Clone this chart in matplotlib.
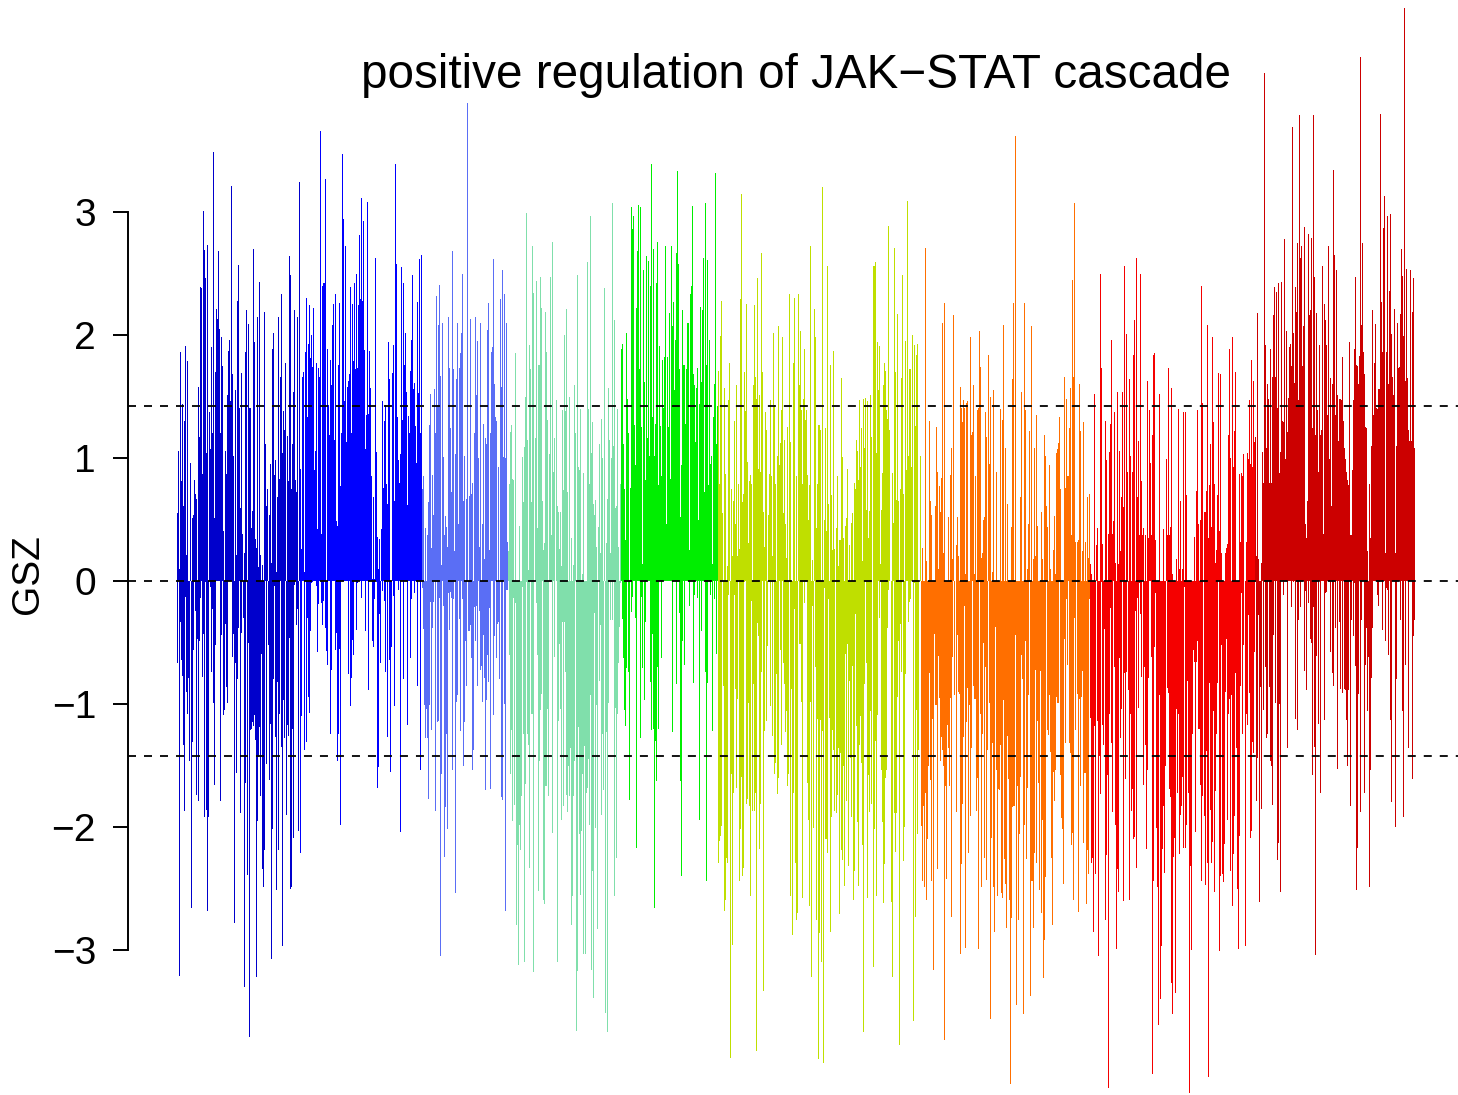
import matplotlib
matplotlib.use("Agg")
import matplotlib.pyplot as plt
import numpy as np

# GSZ values, in hundredths, one per bar
dark_blue_up = [55,106,10,186,81,144,61,130,191,21,179,0,0,96,0,51,54,82,71,67,0,158,117,239,238,87,301,269,246,104,273,0,137,107,190,120,349,51,170,221,213,268,205,120,198,175,41,0,106,87,151,187,196,146,321,168,102,0,155,21,228,257,141,59,169,38,0,23,186,220,0,209,141,141,43,57,270,194,34,27,215,11,243,21,0,13,0,219,111,61,75,0,54,95,15,189,202,86,98,7,68,215,83,166,233,104,138,123,177,0,118,81,264,249,75,111,154,220,82,72,215,0,324]
dark_blue_down = [67,0,321,33,64,77,133,187,13,90,108,79,146,0,266,131,56,1,24,174,47,179,49,14,0,78,43,192,1,186,268,192,0,5,74,23,99,166,52,0,0,0,0,179,44,0,109,105,35,86,99,0,0,0,0,62,43,278,67,156,80,38,0,189,42,0,30,330,164,0,239,50,371,121,120,115,118,109,129,322,195,143,119,175,59,234,249,219,0,149,0,52,162,116,307,202,80,4,127,251,82,219,108,0,135,297,97,128,0,190,117,126,46,250,249,120,209,3,0,36,23,203,0]
blue_up = [91,26,166,170,7,186,230,133,193,224,181,200,174,222,90,106,177,42,173,166,366,38,240,242,242,327,0,189,143,119,180,159,208,225,115,233,49,45,176,226,77,120,347,294,146,272,113,158,163,168,239,120,225,179,242,172,250,173,224,281,229,311,228,293,188,107,135,308,136,187,157,85,2,68,2,263,105,36,10,34,0,42,146,76,130,143,79,63,194,164,0,0,169,192,65,339,258,133,98,80,103,255,131,242,176,202,154,62,134,120,171,196,249,156,161,126,96,227,153,262,120,265]
blue_down = [221,110,0,0,137,0,131,30,94,107,41,2,1,0,0,0,4,58,19,0,0,18,36,16,0,38,57,68,0,0,124,72,0,0,0,56,42,146,124,55,198,0,0,0,0,0,0,0,76,0,102,79,48,60,0,0,40,2,0,0,0,14,0,0,0,41,0,0,89,0,0,0,49,54,15,0,1,168,151,27,67,0,8,0,16,74,0,127,0,64,155,54,0,12,102,0,0,0,7,0,204,0,0,80,0,0,0,117,0,0,63,15,0,0,10,0,0,85,0,0,154,0]
royal_up = [75,85,0,43,0,37,64,127,152,27,86,54,156,120,232,143,208,241,167,13,210,101,37,53,44,28,215,173,124,72,268,172,24,103,164,210,46,173,185,202,250,65,102,0,67,389,0,69,213,71,80,0,120,215,151,195,100,28,210,0,46,128,18,116,111,204,226,25,120,186,190,262,160,133,130,0,93,0,229,158,253,101,233,100,210,32]
royal_down = [6,39,101,128,104,128,177,101,17,121,38,17,0,187,0,115,114,14,305,157,0,20,224,184,124,202,10,40,9,14,154,15,0,254,98,93,0,31,122,0,15,150,115,49,85,0,41,41,36,63,154,137,21,49,20,85,0,24,72,69,98,44,79,170,97,60,82,22,169,0,0,109,45,0,63,35,33,80,0,176,178,0,100,268,7,7]
aqua_up = [24,79,121,127,83,82,0,185,0,0,0,45,0,0,101,64,109,150,299,115,9,192,172,64,272,234,0,116,244,43,176,176,247,222,65,25,31,219,186,131,0,103,247,37,276,89,116,0,147,61,56,26,56,12,139,74,200,138,221,72,0,150,0,35,0,13,159,120,0,249,93,90,140,0,6,88,0,0,0,259,140,79,297,104,129,63,54,66,28,0,44,111,23,132,100,0,238,0,31,67,157,115,23,100,307,110,212,59,61,140,28,0,79]
aqua_down = [0,60,157,121,195,14,182,18,280,215,312,198,219,175,5,124,310,165,1,124,133,233,0,108,108,318,0,0,18,60,252,146,105,92,0,259,263,167,167,104,175,0,0,0,205,0,62,0,0,310,114,51,104,194,33,183,33,74,174,188,150,175,136,280,256,175,146,0,366,317,119,206,255,203,157,303,134,303,172,168,145,198,93,316,236,339,26,201,101,283,0,81,36,190,124,170,0,351,123,367,99,0,32,0,32,0,256,103,225,108,67,37,2]
green_up = [189,193,111,75,33,202,148,120,0,76,304,286,297,127,94,222,268,306,172,304,125,14,253,162,82,264,116,260,102,240,339,133,270,102,128,242,276,78,191,126,85,180,141,182,272,46,182,125,218,83,272,207,227,155,196,267,333,258,172,52,94,220,176,176,128,172,210,210,25,233,240,305,168,159,113,157,173,50,144,223,162,220,263,72,307,176,261,78,196,95,102,14,133,160,332,111,142]
green_down = [0,31,63,105,118,71,0,74,178,0,25,13,0,0,30,217,0,0,0,128,13,71,0,97,33,0,0,0,0,82,121,43,120,266,130,163,70,120,0,0,63,0,0,0,0,0,0,0,0,0,0,123,0,0,0,84,0,0,26,163,240,49,0,68,0,0,0,0,20,0,0,0,83,11,0,0,14,0,194,0,41,0,0,0,74,244,83,0,0,11,0,122,0,15,0,59,0]
yellow_up = [171,79,199,228,55,0,157,87,0,12,147,177,0,75,20,65,130,46,159,20,79,26,229,315,64,71,170,138,225,97,31,81,86,79,0,159,224,166,148,246,91,151,89,267,170,56,28,137,123,0,54,87,147,85,20,202,143,79,0,102,207,94,112,139,198,55,115,46,19,125,0,233,113,0,0,177,230,0,85,0,233,159,203,139,79,148,189,131,139,86,50,78,272,0,17,0,221,198,43,79,127,127,123,0,320,0,50,124,41,256,63,0,176,70,25,187,26,0,43,85,12,33,33,165,101,35,0,45,51,91,0,29,0,47,55,0,80,75,115,106,82,147,93,124,16,148,108,149,58,146,35,57,151,117,0,256,256,259,104,194,155,191,14,58,88,159,177,171,139,132,289,123,0,0,88,47,271,170,66,217,65,0,75,165,249,71,0,195,90,309,102,172,172,93,200,0,192,126,184,193,0,0,102]
yellow_down = [229,211,207,199,0,85,268,259,225,229,11,0,388,157,296,172,11,88,168,96,0,244,202,159,240,233,1,0,181,177,99,183,256,16,187,84,187,172,382,34,45,218,181,74,0,333,122,0,114,53,0,0,102,0,126,0,157,148,76,173,160,0,56,133,0,67,84,123,106,167,157,0,256,88,288,172,23,229,276,270,0,51,51,98,258,0,18,0,0,164,194,264,98,322,20,201,0,70,276,112,389,286,113,310,122,392,6,210,210,221,15,111,285,192,121,137,187,0,189,174,136,271,140,219,227,150,248,59,179,51,232,81,144,192,69,259,236,27,118,196,248,133,110,148,215,367,84,0,67,258,158,188,106,181,0,314,202,130,256,109,0,30,0,154,196,262,230,160,154,38,7,0,0,261,322,0,189,220,189,94,49,377,35,74,0,228,200,76,0,0,33,17,15,0,0,358,2,273,105,206,137,0,0]
orange_up = [0,27,0,0,271,16,0,0,130,65,54,0,0,0,61,125,89,10,77,56,84,210,23,226,0,0,0,52,0,86,108,18,216,0,0,29,52,20,0,158,141,129,147,141,6,145,146,0,0,198,119,121,159,6,85,0,139,141,203,174,19,23,50,52,137,117,0,184,95,150,0,7,155,0,0,89,0,0,0,140,0,131,208,0,108,0,63,0,0,0,44,164,226,0,362,0,0,0,0,68,154,0,0,226,139,0,10,46,122,0,207,0,18,108,20,135,45,0,0,0,56,18,0,119,102,61,44,0,94,10,0,0,25,53,6,104,107,112,133,75,0,0,0,166,76,148,85,85,124,157,37,245,166,307,32,0,32,33,160,122,0,24,129,0,32,0,68,19,71]
orange_down = [199,244,183,249,172,259,210,150,75,162,244,112,316,43,101,101,234,61,95,146,127,137,150,373,167,242,117,136,167,95,273,62,0,93,0,188,44,90,92,303,230,181,127,20,298,115,87,221,101,191,136,0,85,96,96,187,160,299,1,108,249,124,50,225,70,243,137,0,99,356,209,132,249,285,37,154,256,169,170,133,254,258,97,226,246,282,126,161,259,409,274,184,183,183,44,345,167,276,206,159,60,80,352,198,49,226,168,93,0,337,244,244,282,221,72,229,114,164,251,73,270,194,323,292,241,0,121,125,93,139,225,280,155,179,154,94,99,99,0,158,193,202,246,47,132,15,68,0,132,140,215,205,259,30,121,0,92,269,96,167,94,73,213,156,156,263,219,238,15]
red_up = [14,6,0,0,152,0,29,43,0,0,250,173,30,0,0,130,98,0,38,105,128,196,38,49,137,15,0,154,14,106,24,68,154,60,256,0,201,89,0,164,102,0,89,184,212,0,263,68,114,37,250,81,37,43,0,37,0,163,35,139,96,37,119,184,185,33,0,0,0,152,0,0,0,42,0,0,99,37,173,37,44,157,6,0,0,0,18,0,140,10,65,0,10,137,1,137,70,0,0,0,0,0,0,0,36,0,73,139,46,0,50,240,145,0,56,56,73,208,35,78,111,44,198,129,79,15,25,70,169,41,168,23,0,0,0,23,27,30,119,189,100,0,198,93,122,170,0,0,0,87,32,88,85,103,0,0,32,104,99,147,95,180,93,163,113]
red_down = [111,229,225,285,118,238,0,114,305,142,173,1,117,133,39,276,223,158,412,108,22,132,188,0,70,198,299,234,253,63,128,104,0,260,75,161,74,0,89,259,108,187,169,210,208,24,233,14,103,2,27,78,0,166,70,133,218,154,79,0,0,62,401,244,54,10,201,249,361,93,340,297,218,183,237,150,0,87,91,169,176,327,352,224,209,335,104,172,108,222,190,183,159,217,5,217,198,81,172,416,232,300,124,56,66,204,66,49,120,120,166,244,175,0,191,247,138,229,403,83,186,229,212,106,253,171,124,83,0,301,240,52,238,245,214,90,47,194,108,96,236,93,264,222,191,75,136,250,299,207,85,10,124,52,0,297,108,117,28,91,209,203,131,140,58]
dark_red_up = [117,20,218,18,0,0,15,105,80,413,192,108,160,148,80,189,80,166,216,239,166,235,141,242,88,105,243,130,129,278,99,203,121,149,190,193,175,369,202,161,239,219,275,147,379,263,272,175,207,288,46,35,65,282,216,220,279,124,379,247,119,218,139,89,192,119,123,256,38,225,212,192,135,272,99,165,61,160,334,265,135,253,151,114,148,148,147,182,130,108,99,89,82,78,194,37,37,90,147,189,247,176,175,160,183,426,208,275,186,168,125,124,24,0,79,35,110,220,135,177,209,141,140,156,156,380,227,186,287,313,23,186,297,160,236,298,201,166,151,221,23,110,210,173,174,217,270,248,199,466,163,254,165,123,114,253,114,219,246,108]
dark_red_down = [1,179,144,28,261,86,185,0,105,0,70,128,124,0,86,146,150,182,44,0,99,0,227,213,100,253,0,0,11,0,0,0,136,0,0,0,21,0,1,0,112,0,121,32,0,21,0,0,0,73,8,89,0,18,0,47,50,158,21,135,304,61,0,116,0,172,0,0,0,113,10,9,0,0,0,58,0,75,85,0,38,0,153,0,33,88,0,91,0,88,89,113,150,89,0,183,32,0,45,2,69,251,217,92,0,188,32,0,0,172,68,38,106,62,249,154,79,38,0,0,0,0,11,20,1,0,0,40,0,0,49,6,7,60,0,113,180,0,0,0,200,80,0,0,0,32,0,106,192,0,68,0,0,136,0,0,0,161,45,32]

series_up = [dark_blue_up, blue_up, royal_up, aqua_up, green_up, yellow_up, orange_up, red_up, dark_red_up]
series_down = [dark_blue_down, blue_down, royal_down, aqua_down, green_down, yellow_down, orange_down, red_down, dark_red_down]
colours = ["#0000CC", "#0000FF", "#5A6EF5", "#80DFAB", "#00EE00", "#BFDF00", "#FF6F00", "#F50000", "#CC0000"]
starts = [177, 300, 422, 508, 621, 718, 921, 1090, 1255]

cutoff = 1.42
yticks = [-3, -2, -1, 0, 1, 2, 3]

plt.rcParams['font.family'] = ['Liberation Sans', 'DejaVu Sans']

fig = plt.figure(figsize=(14.58, 10.95), dpi=100)
ax = fig.add_axes([128 / 1458, 0, 1330 / 1458, 1])
ax.set_xlim(128, 1458)
ax.set_ylim((581 - 1095) / 123, 581 / 123)

for up, down, colour, start in zip(series_up, series_down, colours, starts):
    ax.bar(start + np.arange(len(up)) + 0.5, np.array(up) / 100, width=1.0,
           color=colour, linewidth=0, antialiased=False)
    ax.bar(start + np.arange(len(down)) + 0.5, -np.array(down) / 100, width=1.0,
           color=colour, linewidth=0, antialiased=False)

for level in [cutoff, 0, -cutoff]:
    ax.axhline(level, color="black", lw=1.3, linestyle=(0, (4.43, 4.43)), zorder=5)

for side in ["top", "right", "bottom"]:
    ax.spines[side].set_visible(False)
ax.spines["left"].set_bounds(-3, 3)
ax.spines["left"].set_linewidth(1.4)
ax.set_xticks([])
ax.set_yticks(yticks)
ax.tick_params(axis="y", length=11, width=1.4, pad=12, labelsize=28)

fig.text(28 / 1458, 1 - 574 / 1095, "GSZ", rotation=90, fontsize=28, ha="center", va="center")
fig.text(796 / 1458, 1 - 76 / 1095, "positive regulation of JAK\u2212STAT cascade",
         fontsize=34.3, ha="center", va="center")

fig.savefig("out.png", dpi=100)
